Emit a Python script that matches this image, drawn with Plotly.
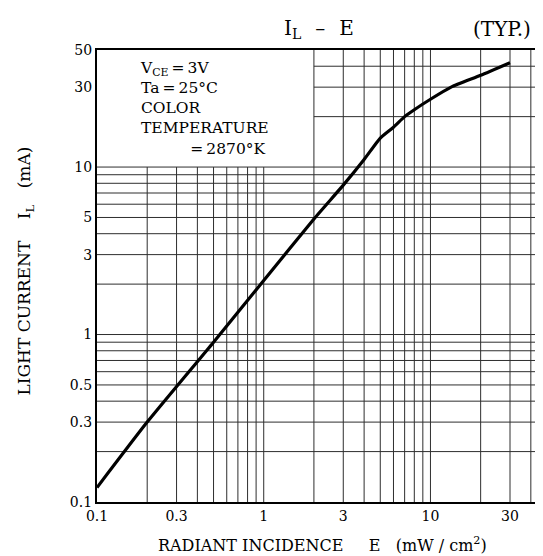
import math
import plotly.graph_objects as go

# ---- data ----
E_vals = [0.1, 0.2, 0.5, 1, 2, 3, 4, 5, 6, 7, 8, 10, 13.3, 20, 30]
IL_vals = [0.122, 0.3, 0.9, 2.1, 4.9, 7.8, 11.1, 14.9, 17.3, 20.0, 22.0, 25.4, 30.0, 35.3, 42.0]

x_tick_vals = [0.1, 0.3, 1, 3, 10, 30]
x_tick_text = ["0.1", "0.3", "1", "3", "10", "30"]
y_tick_vals = [0.1, 0.3, 0.5, 1, 3, 5, 10, 30, 50]
y_tick_text = ["0.1", "0.3", "0.5", "1", "3", "5", "10", "30", "50"]

x_grid = [0.2, 0.3, 0.4, 0.5, 0.6, 0.7, 0.8, 0.9, 1,
          2, 3, 4, 5, 6, 7, 8, 9, 10, 20, 30, 40]
y_grid = [0.2, 0.3, 0.4, 0.5, 0.6, 0.7, 0.8, 0.9, 1,
          2, 3, 4, 5, 6, 7, 8, 9, 10, 20, 30, 40]

X_MIN, X_MAX = 0.1, 50
Y_MIN, Y_MAX = 0.1, 50
BOX_X, BOX_Y = 2, 10   # blank text box region: x < BOX_X and y > BOX_Y

FONT = "DejaVu Serif"
NB = "\u00a0"

# ---- grid segments (grid is omitted inside the text box) ----
gx, gy = [], []
for xv in x_grid:
    top = Y_MAX if xv >= BOX_X else BOX_Y
    gx += [xv, xv, None]
    gy += [Y_MIN, top, None]
for yv in y_grid:
    left = BOX_X if yv > BOX_Y else X_MIN
    gx += [left, X_MAX, None]
    gy += [yv, yv, None]

fig = go.Figure()
fig.add_trace(go.Scatter(x=gx, y=gy, mode="lines",
                         line=dict(color="#2e2e2e", width=1),
                         hoverinfo="skip", showlegend=False))
fig.add_trace(go.Scatter(x=E_vals, y=IL_vals, mode="lines",
                         line=dict(color="black", width=3.2, shape="spline", smoothing=0.5),
                         showlegend=False))

axis_common = dict(type="log", showgrid=False, zeroline=False, ticks="",
                   showline=True, mirror=True, linewidth=2.2, linecolor="black",
                   tickfont=dict(family=FONT, size=14, color="black"))

fig.update_xaxes(range=[math.log10(X_MIN), math.log10(X_MAX)],
                 tickvals=x_tick_vals, ticktext=x_tick_text, **axis_common)
fig.update_yaxes(range=[math.log10(Y_MIN), math.log10(Y_MAX)],
                 tickvals=y_tick_vals, ticktext=y_tick_text, **axis_common)

ann = []
def add(text, x, y, size, xanchor="left", angle=0):
    ann.append(dict(text=text, x=x, y=y, xref="paper", yref="paper",
                    xanchor=xanchor, yanchor="middle", showarrow=False,
                    textangle=angle, align="left",
                    font=dict(family=FONT, size=size, color="black")))

# title
add("I<sub>L</sub>\u2002\u2009\u2013\u2002\u2009E", 0.4925, 1.046, 20, xanchor="center")
add("(TYP.)", 0.9, 1.046, 20, xanchor="center")
# condition box text (one block)
cond_lines = ["V<sub>CE</sub>\u2009=\u20093V",
              "Ta\u2009=\u200925°C",
              "COLOR",
              "TEMPERATURE",
              NB * 10 + "=\u20092870°K"]
add("<br>".join(cond_lines), 0.090, 0.8695, 15.5)
# axis titles
add("RADIANT INCIDENCE" + NB * 5 + "E" + NB * 3 + "(mW / cm<sup>2</sup>)",
    0.5, -0.095, 16, xanchor="center")
add("LIGHT CURRENT" + NB * 4 + "I<sub>L</sub>" + NB * 3 + "(mA)",
    -0.158, 0.512, 17, xanchor="center", angle=-90)

fig.update_layout(width=543, height=556,
                  margin=dict(l=89, r=2, t=42, b=62),
                  paper_bgcolor="white", plot_bgcolor="white",
                  annotations=ann, showlegend=False)

fig.write_html("out.html")
